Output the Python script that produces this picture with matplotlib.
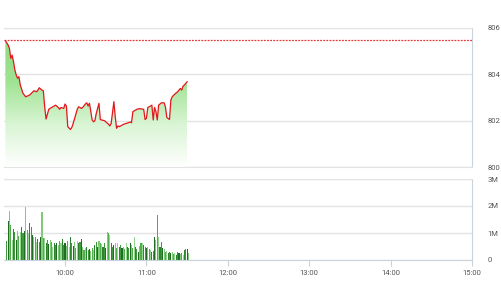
import matplotlib
matplotlib.use('Agg')
import matplotlib.pyplot as plt
import numpy as np

plt.rcParams['font.family'] = ['Roboto', 'DejaVu Sans']

# price line (time, index value)
price_times = ['9:16', '9:18', '9:19', '9:20', '9:21', '9:22', '9:23', '9:24', '9:25', '9:26',
               '9:27', '9:29', '9:31', '9:34', '9:37', '9:39', '9:40', '9:41', '9:43', '9:44',
               '9:45', '9:46', '9:48', '9:49', '9:51', '9:53', '9:55', '9:56', '9:57', '9:59',
               '10:00', '10:01', '10:02', '10:04', '10:05', '10:06', '10:09', '10:10', '10:11', '10:12',
               '10:13', '10:15', '10:16', '10:17', '10:18', '10:20', '10:21', '10:22', '10:23', '10:25',
               '10:26', '10:27', '10:29', '10:32', '10:33', '10:34', '10:36', '10:37', '10:38', '10:39',
               '10:40', '10:43', '10:45', '10:48', '10:49', '10:50', '10:53', '10:55', '10:58', '10:59',
               '11:00', '11:01', '11:03', '11:04', '11:05', '11:06', '11:07', '11:08', '11:09', '11:11',
               '11:13', '11:14', '11:15', '11:17', '11:18', '11:19', '11:21', '11:23', '11:24', '11:25',
               '11:26', '11:27', '11:28', '11:30']
prices = [805.45, 805.27, 805.12, 804.69, 804.83, 804.55, 804.19, 803.97, 803.83, 803.90,
          803.54, 803.18, 803.03, 803.11, 803.29, 803.25, 803.32, 803.42, 803.32, 803.29,
          802.60, 802.07, 802.49, 802.53, 802.60, 802.67, 802.57, 802.49, 802.57, 802.53,
          802.72, 802.63, 801.74, 801.62, 801.71, 801.88, 802.49, 802.60, 802.57, 802.53,
          802.57, 802.72, 802.77, 802.63, 802.75, 802.03, 801.95, 802.00, 802.31, 802.75,
          802.05, 802.03, 802.00, 801.85, 801.77, 801.88, 802.82, 802.17, 801.67, 801.77,
          801.74, 801.84, 801.88, 801.94, 801.91, 802.39, 802.49, 802.52, 802.49, 802.05,
          802.10, 802.57, 802.63, 802.67, 802.03, 802.57, 802.39, 802.03, 802.67, 802.77,
          802.77, 802.60, 802.14, 802.05, 802.89, 803.03, 803.15, 803.25, 803.32, 803.39,
          803.32, 803.49, 803.54, 803.68]
ref_price = 805.5

# volume per minute from 9:17, in millions
volumes = [0.72, 1.46, 1.83, 1.30, 0.74, 1.14, 1.05, 0.74, 1.09, 0.89,
           1.05, 1.21, 0.99, 1.09, 1.98, 1.11, 1.01, 1.36, 1.23, 0.93,
           0.86, 0.86, 0.68, 0.77, 0.68, 0.86, 1.79, 0.80, 0.80, 0.62,
           0.74, 0.59, 0.74, 0.68, 0.49, 0.62, 0.56, 0.64, 0.56, 0.72,
           0.62, 0.77, 0.56, 0.62, 0.52, 0.72, 0.49, 0.84, 0.62, 0.52,
           0.68, 0.43, 0.72, 0.64, 0.68, 0.77, 0.49, 0.37, 0.43, 0.49,
           0.37, 0.40, 0.35, 0.43, 0.37, 0.56, 0.68, 0.49, 0.72, 0.64,
           0.59, 0.49, 0.62, 0.43, 1.02, 0.99, 0.93, 0.62, 0.49, 0.56,
           0.62, 0.43, 0.62, 0.49, 0.56, 0.43, 0.49, 0.40, 0.62, 0.49,
           0.43, 0.62, 0.56, 0.43, 0.84, 0.49, 0.40, 0.31, 0.52, 0.62,
           0.64, 0.56, 0.49, 0.43, 0.47, 0.40, 0.37, 0.31, 0.35, 0.86,
           0.74, 1.67, 0.84, 0.49, 0.68, 0.43, 0.40, 0.31, 0.35, 0.25,
           0.31, 0.25, 0.31, 0.22, 0.27, 0.19, 0.31, 0.25, 0.22, 0.27,
           0.19, 0.37, 0.40, 0.40, 0.27]
vol_start = '9:17'

hour_ticks = [10, 11, 12, 13, 14, 15]
price_ticks = [800, 802, 804, 806]
vol_ticks = [0, 1, 2, 3]
vol_labels = ['0', '1M', '2M', '3M']


def to_hours(s):
    h, m = s.split(':')
    return int(h) + int(m) / 60


t_price = np.array([to_hours(s) for s in price_times])
p = np.array(prices)
t_vol = to_hours(vol_start) + np.arange(len(volumes)) / 60

grid_c = '#e3e3e3'
frame_c = '#c9d3dc'
text_c = '#555555'
x0, x1 = 9.25, 15

fig = plt.figure(figsize=(5.01, 3.0), dpi=100)
ax = fig.add_axes([4 / 501, 1 - 167 / 300, 468 / 501, 139 / 300])
axv = fig.add_axes([4 / 501, 1 - 260 / 300, 468 / 501, 81 / 300])

# price panel
fill = ax.fill_between(t_price, p, 800, color='none', lw=0)
grad = np.linspace(0, 1, 256).reshape(-1, 1)
cmap = matplotlib.colors.LinearSegmentedColormap.from_list(
    'g', ['#ffffff', '#d9f5d4', '#9fe393', '#8cdc80'])
img = ax.imshow(grad, cmap=cmap, aspect='auto', origin='lower',
                extent=[t_price[0], t_price[-1], 800, ref_price], zorder=1)
img.set_clip_path(fill.get_paths()[0], transform=ax.transData)
ax.plot(t_price, p, color='#e3161b', lw=0.9, zorder=3)
ax.axhline(ref_price, color='#e53935', lw=0.9, ls=(0, (1.5, 1)), zorder=2)

ax.set_xlim(x0, x1)
ax.set_ylim(800, 806)
ax.set_yticks(price_ticks)
ax.set_xticks([])
ax.yaxis.tick_right()
ax.tick_params(axis='y', length=0, pad=11, labelsize=5.5, labelcolor=text_c)
ax.grid(axis='y', color=grid_c, lw=1)
ax.set_axisbelow(True)
ax.spines['left'].set_visible(False)
ax.spines['top'].set_color(grid_c)
ax.spines['bottom'].set_color(grid_c)
ax.spines['right'].set_color(frame_c)

# volume panel
shades = ['#3f9a3f', '#1f6d22', '#7fcb7a', '#52ad4d', '#95d890', '#2e8431']
bar_colors = [shades[i % len(shades)] for i in range(len(volumes))]
axv.bar(t_vol, volumes, width=0.0135, color=bar_colors, align='center', zorder=2)
axv.set_xlim(x0, x1)
axv.set_ylim(0, 3)
axv.set_yticks(vol_ticks)
axv.set_yticklabels(vol_labels)
axv.set_xticks(hour_ticks)
axv.set_xticklabels([f'{h}:00' for h in hour_ticks])
axv.yaxis.tick_right()
axv.tick_params(axis='y', length=0, pad=11, labelsize=5.5, labelcolor=text_c)
axv.tick_params(axis='x', length=4, width=0.8, color=frame_c, pad=3,
                labelsize=5.5, labelcolor=text_c)
axv.grid(axis='y', color=grid_c, lw=1)
axv.set_axisbelow(True)
axv.spines['left'].set_visible(False)
axv.spines['top'].set_color(grid_c)
axv.spines['right'].set_color(frame_c)
axv.spines['bottom'].set_color(frame_c)

fig.savefig('out.png', dpi=100)
